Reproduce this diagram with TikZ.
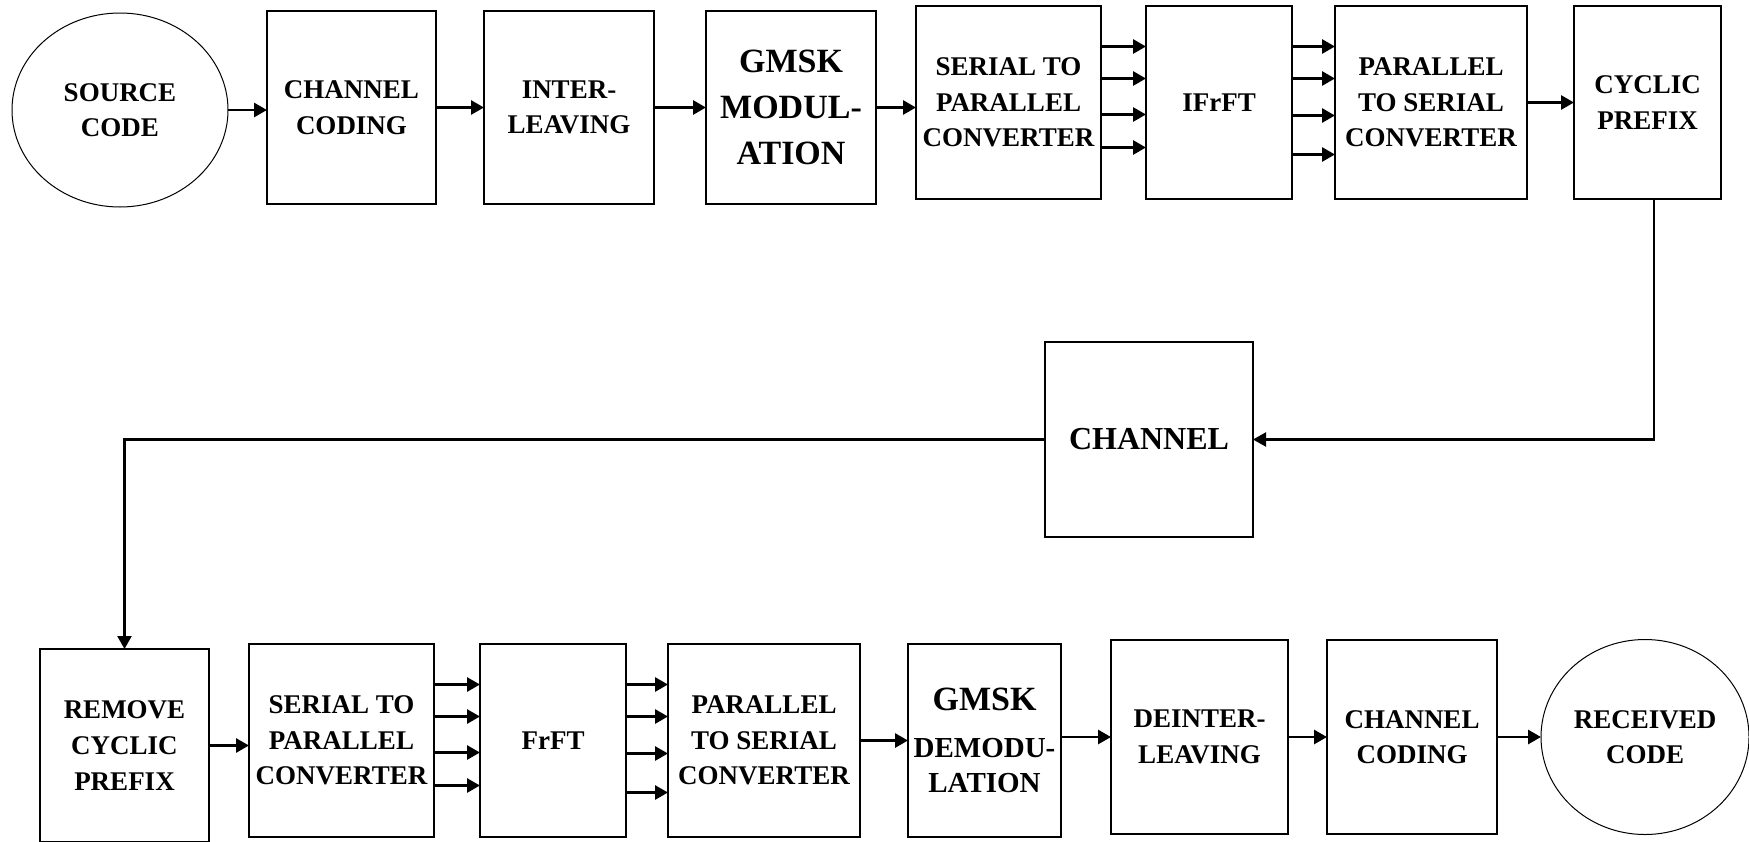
\documentclass[tikz,border=0pt]{standalone}
\usepackage{fontspec}
\setmainfont{Liberation Serif}
\usetikzlibrary{positioning,arrows.meta,shapes.geometric}

\begin{document}
\begin{tikzpicture}[x=1pt,y=1pt,
  blk/.style={rectangle,draw=black,line width=0.6pt,outer sep=0pt,align=center,inner sep=0pt,minimum height=96.5pt,font=\fontsize{13.5}{17.8}\selectfont\bfseries},
  big/.style={blk,font=\fontsize{17}{22.9}\selectfont\bfseries},
  oval/.style={ellipse,draw=black,line width=0.5pt,outer sep=0pt,align=center,inner sep=0pt,minimum width=108pt,minimum height=97pt,font=\fontsize{13.5}{17.8}\selectfont\bfseries},
  arr/.style={-{Triangle[length=6.5pt,width=7pt]},line width=1.4pt},
  ret/.style={-{Triangle[length=6.5pt,width=7pt]},line width=1.1pt}
]
\useasboundingbox (0,0) rectangle (874.5,-420.5);
% transmitter
\node[oval] (src) at (60,-55) {SOURCE\\CODE};
\node[blk,minimum width=84.5pt] (ccod) at (175.75,-53.75) {CHANNEL\\CODING};
\node[blk,minimum width=85pt,right=24pt of ccod] (intl) {INTER-\\LEAVING};
\node[big,minimum width=85pt,right=26pt of intl] (gmod) {GMSK\\MODUL-\\ATION};
\node[blk,minimum width=92.5pt,right=20pt of gmod,yshift=2.5pt] (sp) {SERIAL TO\\PARALLEL\\CONVERTER};
\node[blk,minimum width=73pt,right=22.5pt of sp] (ifrft) {IFrFT};
\node[blk,minimum width=96pt,right=21.5pt of ifrft] (ps) {PARALLEL\\TO SERIAL\\CONVERTER};
\node[blk,minimum width=73.5pt,right=23.5pt of ps] (cp) {CYCLIC\\PREFIX};
% channel
\node[blk,minimum width=104pt,minimum height=97.5pt,font=\fontsize{16}{20}\selectfont\bfseries] (chan) at (574.5,-219.75) {CHANNEL};
% receiver
\node[blk,minimum width=84.5pt] (rcp) at (62.25,-372.75) {REMOVE\\CYCLIC\\PREFIX};
\node[blk,minimum width=92.5pt,right=20pt of rcp,yshift=2.5pt] (sp2) {SERIAL TO\\PARALLEL\\CONVERTER};
\node[blk,minimum width=73pt,right=23pt of sp2] (frft) {FrFT};
\node[blk,minimum width=96pt,right=21pt of frft] (ps2) {PARALLEL\\TO SERIAL\\CONVERTER};
\node[blk,minimum width=76.5pt,right=24pt of ps2,font=\fontsize{14.5}{17.8}\selectfont\bfseries] (gdem) {{\fontsize{17}{17.8}\selectfont GMSK}\\[5.5pt]DEMODU-\\LATION};
\node[blk,minimum width=88.5pt,minimum height=97pt,right=25pt of gdem,yshift=1.75pt] (dint) {DEINTER-\\LEAVING};
\node[blk,minimum width=85pt,minimum height=97pt,right=19.5pt of dint] (ccod2) {CHANNEL\\CODING};
\node[oval,minimum width=104pt,minimum height=97.5pt,right=22pt of ccod2] (rcv) {RECEIVED\\CODE};

\draw[arr] (src.east) -- (src.east -| ccod.west);
\draw[arr] (ccod) -- (intl);
\draw[arr] (intl) -- (gmod);
\draw[arr] (gmod.east) -- (gmod.east -| sp.west);
\foreach \dy in {28,12,-6,-22.5}
  \draw[arr] ([yshift=\dy pt]sp.east) -- ([yshift=\dy pt]ifrft.west);
\foreach \dy in {28,12,-6.5,-26}
  \draw[arr] ([yshift=\dy pt]ifrft.east) -- ([yshift=\dy pt]ps.west);
\draw[arr] (ps) -- (cp);
\draw[ret] ([xshift=3.3pt]cp.south) |- (chan.east);
\draw[ret] (chan.west) -| (rcp.north);
\draw[arr] (rcp.east) -- (rcp.east -| sp2.west);
\foreach \dy in {28,12,-6,-22.5}
  \draw[arr] ([yshift=\dy pt]sp2.east) -- ([yshift=\dy pt]frft.west);
\foreach \dy in {28,12,-6.5,-26}
  \draw[arr] ([yshift=\dy pt]frft.east) -- ([yshift=\dy pt]ps2.west);
\draw[arr] (ps2) -- (gdem);
\draw[arr] (gdem.east |- dint.west) -- (dint.west);
\draw[arr] (dint) -- (ccod2);
\draw[arr] (ccod2) -- (rcv);
\end{tikzpicture}
\end{document}
